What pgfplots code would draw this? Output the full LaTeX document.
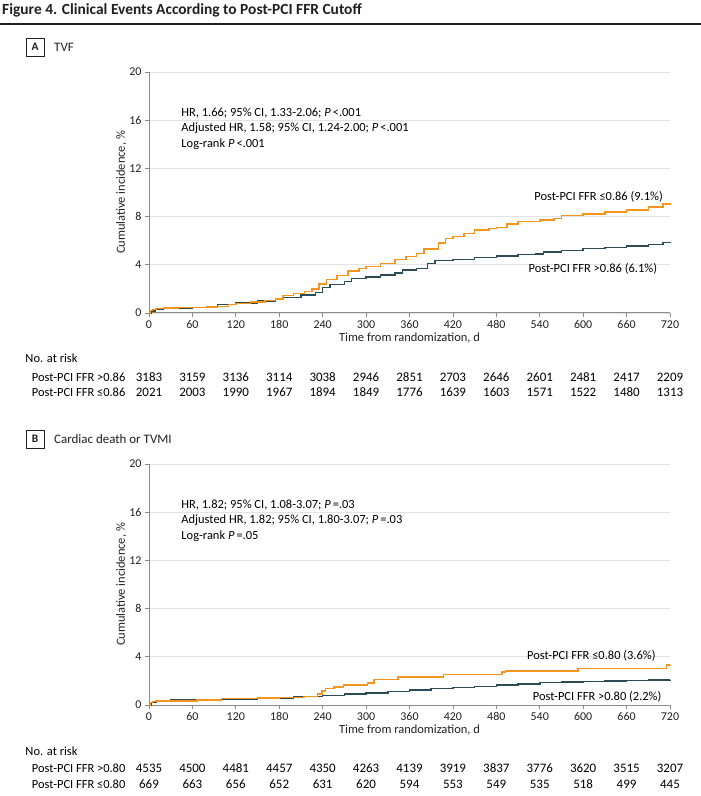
\documentclass[border=0pt]{standalone}
\usepackage{fontspec}
\setmainfont{Carlito}
\usepackage{pgfplots}
\pgfplotsset{compat=1.18}
\definecolor{orng}{HTML}{F7941D}
\definecolor{kmteal}{HTML}{2B4B55}
\definecolor{txt}{HTML}{231F20}
\definecolor{axgray}{HTML}{8C8C8C}
\definecolor{gridc}{HTML}{E3E3E3}
\pgfplotsset{kmstyle/.style={
  scale only axis, width=521bp, height=241bp,
  xmin=0, xmax=720, ymin=0, ymax=20,
  xtick={0,60,...,720}, ytick={0,4,...,20},
  axis x line*=bottom, axis y line*=left,
  axis line style={axgray, line width=1pt, -},
  tick style={axgray, line width=0.8pt},
  tick align=outside, major tick length=4bp,
  ymajorgrids, grid style={gridc, line width=0.8pt},
  tick label style={font=\fontsize{12}{14}\selectfont, text=txt},
  /pgf/number format/assume math mode=true,
  xlabel={Time from randomization, d},
  ylabel={Cumulative incidence, \%},
  label style={font=\fontsize{12.5}{14}\selectfont, text=txt},
  xlabel style={yshift=3bp},
  ylabel style={yshift=-4bp},
  clip=false,
  every node/.append style={text=txt},
}}
\newcommand{\tf}{\fontsize{12.5}{14}\selectfont}
\newcommand{\nf}{\fontsize{13}{15}\selectfont}
\begin{document}
\begin{tikzpicture}
\path[use as bounding box] (0,0) rectangle (701bp,796bp);
% title
\node[anchor=west, font=\fontsize{15.5}{17}\selectfont\bfseries, text=txt, inner sep=0] at (2bp,786bp) {Figure 4. Clinical Events According to Post-PCI FFR Cutoff};
\draw[txt, line width=1.2bp] (0,772bp) -- (701bp,772bp);
% panel labels
\draw[txt, line width=0.8bp] (26bp,740bp) rectangle (44bp,758bp);
\node[font=\fontsize{11.5}{13}\selectfont\bfseries, text=txt] at (35bp,749bp) {A};
\node[anchor=west, font=\fontsize{13}{15}\selectfont, text=txt, inner sep=0] at (54bp,749bp) {TVF};
\draw[txt, line width=0.8bp] (26bp,348bp) rectangle (44bp,366bp);
\node[font=\fontsize{11.5}{13}\selectfont\bfseries, text=txt] at (35bp,357bp) {B};
\node[anchor=west, font=\fontsize{13}{15}\selectfont, text=txt, inner sep=0] at (54bp,357bp) {Cardiac death or TVMI};

%%%%%%%%%%%%%%%% Panel A
\begin{axis}[kmstyle, at={(149bp,483bp)}, anchor=south west]
\addplot[const plot, color=kmteal, line width=1.5bp] coordinates {
(0,0) (3,0.15) (8,0.3) (20,0.4) (60,0.45) (80,0.55) (95,0.7) (120,0.85) (150,1.0) (175,1.15) (185,1.3) (210,1.5) (230,1.7) (240,2.1) (250,2.35) (270,2.6) (280,2.85) (300,3.0) (320,3.15) (340,3.3) (350,3.55) (370,3.7) (385,4.1) (395,4.35) (420,4.45) (450,4.6) (480,4.75) (510,4.85) (535,4.9) (545,5.05) (570,5.2) (600,5.35) (630,5.45) (660,5.55) (690,5.7) (710,5.85) (720,5.9)};
\addplot[const plot, color=orng, line width=1.5bp] coordinates {
(0,0) (2,0.2) (5,0.3) (10,0.38) (20,0.42) (40,0.45) (60,0.47) (80,0.5) (95,0.55) (110,0.7) (120,0.78) (140,0.9) (160,1.05) (175,1.15) (185,1.45) (200,1.6) (215,1.8) (225,2.0) (235,2.4) (245,2.8) (260,3.1) (275,3.5) (290,3.7) (300,3.85) (320,4.1) (340,4.45) (355,4.7) (370,4.95) (380,5.3) (400,5.8) (410,6.2) (420,6.35) (435,6.6) (450,6.9) (470,7.0) (480,7.1) (495,7.4) (510,7.6) (540,7.7) (560,7.85) (570,8.1) (600,8.2) (630,8.4) (660,8.55) (690,8.8) (710,9.05) (720,9.13)};
\node[anchor=west, font=\tf] at (axis cs:40,16.6) {HR, 1.66; 95\% CI, 1.33-2.06; \emph{P}\,<.001};
\node[anchor=west, font=\tf] at (axis cs:40,15.3) {Adjusted HR, 1.58; 95\% CI, 1.24-2.00; \emph{P}\,<.001};
\node[anchor=west, font=\tf] at (axis cs:40,14.0) {Log-rank \emph{P}\,<.001};
\node[anchor=east, font=\tf] at (axis cs:715,9.65) {Post-PCI FFR ≤0.86 (9.1\%)};
\node[anchor=east, font=\tf] at (axis cs:707,3.65) {Post-PCI FFR >0.86 (6.1\%)};
% at risk
\node[anchor=west, font=\tf, inner sep=0] at (axis cs:-171,-3.75) {No. at risk};
\node[anchor=west, font=\tf, inner sep=0] at (axis cs:-162,-5.3) {Post-PCI FFR >0.86};
\node[anchor=west, font=\tf, inner sep=0] at (axis cs:-162,-6.55) {Post-PCI FFR ≤0.86};
\node[font=\nf] at (axis cs:0,-5.3) {3183};
\node[font=\nf] at (axis cs:60,-5.3) {3159};
\node[font=\nf] at (axis cs:120,-5.3) {3136};
\node[font=\nf] at (axis cs:180,-5.3) {3114};
\node[font=\nf] at (axis cs:240,-5.3) {3038};
\node[font=\nf] at (axis cs:300,-5.3) {2946};
\node[font=\nf] at (axis cs:360,-5.3) {2851};
\node[font=\nf] at (axis cs:420,-5.3) {2703};
\node[font=\nf] at (axis cs:480,-5.3) {2646};
\node[font=\nf] at (axis cs:540,-5.3) {2601};
\node[font=\nf] at (axis cs:600,-5.3) {2481};
\node[font=\nf] at (axis cs:660,-5.3) {2417};
\node[font=\nf] at (axis cs:720,-5.3) {2209};
\node[font=\nf] at (axis cs:0,-6.55) {2021};
\node[font=\nf] at (axis cs:60,-6.55) {2003};
\node[font=\nf] at (axis cs:120,-6.55) {1990};
\node[font=\nf] at (axis cs:180,-6.55) {1967};
\node[font=\nf] at (axis cs:240,-6.55) {1894};
\node[font=\nf] at (axis cs:300,-6.55) {1849};
\node[font=\nf] at (axis cs:360,-6.55) {1776};
\node[font=\nf] at (axis cs:420,-6.55) {1639};
\node[font=\nf] at (axis cs:480,-6.55) {1603};
\node[font=\nf] at (axis cs:540,-6.55) {1571};
\node[font=\nf] at (axis cs:600,-6.55) {1522};
\node[font=\nf] at (axis cs:660,-6.55) {1480};
\node[font=\nf] at (axis cs:720,-6.55) {1313};
\end{axis}

%%%%%%%%%%%%%%%% Panel B
\begin{axis}[kmstyle, at={(149bp,91bp)}, anchor=south west]
\addplot[const plot, color=kmteal, line width=1.5bp] coordinates {
(0,0) (3,0.2) (10,0.35) (30,0.45) (100,0.5) (150,0.6) (200,0.7) (240,0.8) (270,0.9) (300,1.0) (330,1.12) (360,1.25) (390,1.35) (420,1.45) (450,1.55) (480,1.65) (510,1.75) (540,1.85) (570,1.9) (600,1.95) (630,2.0) (660,2.05) (690,2.08) (720,2.1)};
\addplot[const plot, color=orng, line width=1.5bp] coordinates {
(0,0) (2,0.2) (5,0.3) (10,0.33) (66,0.4) (100,0.55) (150,0.6) (180,0.62) (214,0.7) (233,0.92) (239,1.16) (244,1.37) (256,1.51) (269,1.66) (302,1.81) (311,2.1) (344,2.31) (407,2.55) (488,2.75) (493,2.84) (593,3.02) (715,3.3) (720,3.34)};
\node[anchor=west, font=\tf] at (axis cs:40,16.6) {HR, 1.82; 95\% CI, 1.08-3.07; \emph{P}\,=.03};
\node[anchor=west, font=\tf] at (axis cs:40,15.3) {Adjusted HR, 1.82; 95\% CI, 1.80-3.07; \emph{P}\,=.03};
\node[anchor=west, font=\tf] at (axis cs:40,14.0) {Log-rank \emph{P}\,=.05};
\node[anchor=east, font=\tf] at (axis cs:705,4.1) {Post-PCI FFR ≤0.80 (3.6\%)};
\node[anchor=east, font=\tf] at (axis cs:713,0.65) {Post-PCI FFR >0.80 (2.2\%)};
% at risk
\node[anchor=west, font=\tf, inner sep=0] at (axis cs:-171,-3.85) {No. at risk};
\node[anchor=west, font=\tf, inner sep=0] at (axis cs:-162,-5.25) {Post-PCI FFR >0.80};
\node[anchor=west, font=\tf, inner sep=0] at (axis cs:-162,-6.6) {Post-PCI FFR ≤0.80};
\node[font=\nf] at (axis cs:0,-5.25) {4535};
\node[font=\nf] at (axis cs:60,-5.25) {4500};
\node[font=\nf] at (axis cs:120,-5.25) {4481};
\node[font=\nf] at (axis cs:180,-5.25) {4457};
\node[font=\nf] at (axis cs:240,-5.25) {4350};
\node[font=\nf] at (axis cs:300,-5.25) {4263};
\node[font=\nf] at (axis cs:360,-5.25) {4139};
\node[font=\nf] at (axis cs:420,-5.25) {3919};
\node[font=\nf] at (axis cs:480,-5.25) {3837};
\node[font=\nf] at (axis cs:540,-5.25) {3776};
\node[font=\nf] at (axis cs:600,-5.25) {3620};
\node[font=\nf] at (axis cs:660,-5.25) {3515};
\node[font=\nf] at (axis cs:720,-5.25) {3207};
\node[font=\nf] at (axis cs:0,-6.6) {669};
\node[font=\nf] at (axis cs:60,-6.6) {663};
\node[font=\nf] at (axis cs:120,-6.6) {656};
\node[font=\nf] at (axis cs:180,-6.6) {652};
\node[font=\nf] at (axis cs:240,-6.6) {631};
\node[font=\nf] at (axis cs:300,-6.6) {620};
\node[font=\nf] at (axis cs:360,-6.6) {594};
\node[font=\nf] at (axis cs:420,-6.6) {553};
\node[font=\nf] at (axis cs:480,-6.6) {549};
\node[font=\nf] at (axis cs:540,-6.6) {535};
\node[font=\nf] at (axis cs:600,-6.6) {518};
\node[font=\nf] at (axis cs:660,-6.6) {499};
\node[font=\nf] at (axis cs:720,-6.6) {445};
\end{axis}
\end{tikzpicture}
\end{document}
